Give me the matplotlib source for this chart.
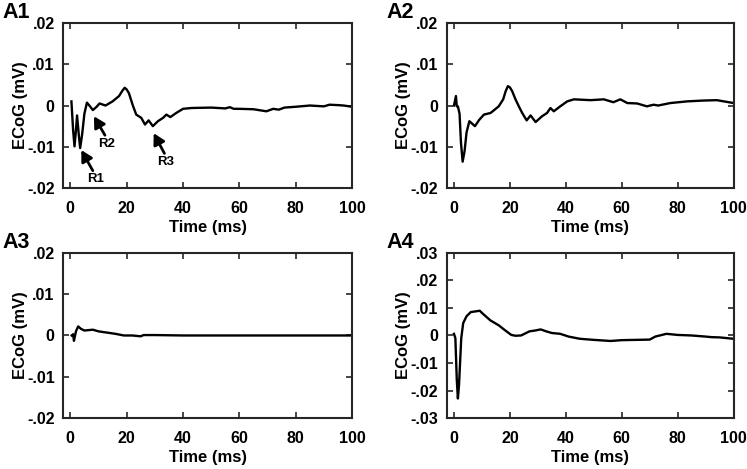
import matplotlib.pyplot as plt
from matplotlib.ticker import FuncFormatter

plt.rcParams['font.family'] = ['Liberation Sans', 'DejaVu Sans']
plt.rcParams['font.weight'] = 'bold'

# traces (time in ms, ECoG in mV)
t1 = [0.4, 1.0, 1.5, 2.0, 2.4, 3.0, 3.5, 4.2, 5.0, 5.9, 7.0, 8, 9.2, 10.4, 12.5, 15, 17.3,
      18.5, 19.3, 20.0, 20.8, 22.2, 23.4, 25.2, 26.5, 27.8, 29.3, 31.1, 32.9, 34.1, 35.5,
      37.6, 40, 43, 50, 55, 56.6, 58, 60, 65, 69.6, 72, 74, 76, 80, 85, 90, 92, 95, 97, 100]
v1 = [0.001, -0.006, -0.0099, -0.006, -0.0024, -0.007, -0.0103, -0.007, -0.002, 0.0007,
      -0.0002, -0.0011, -0.0004, 0.0005, 0.0, 0.001, 0.0023, 0.0036, 0.0043, 0.0039, 0.003,
      0.0, -0.0022, -0.003, -0.0046, -0.0036, -0.005, -0.0038, -0.003, -0.0022, -0.0028,
      -0.0018, -0.0008, -0.0006, -0.0005, -0.0007, -0.0004, -0.0008, -0.0008, -0.0009,
      -0.0014, -0.0008, -0.001, -0.0005, -0.0003, 0.0, -0.0002, 0.0002, 0.0001, 0.0, -0.0003]

t2 = [0, 0.7, 1.0, 1.4, 2.0, 2.5, 3.1, 3.8, 4.5, 5.5, 7.5, 9, 10.7, 13.1, 16, 17.6, 18.5,
      19.3, 20.0, 20.8, 22, 23.2, 24.4, 26, 27.4, 29.2, 31.5, 33.3, 34.5, 35.7, 38, 40.5,
      42.9, 48.8, 53.6, 57, 59.5, 62, 65.5, 69, 71.4, 73, 77.4, 83.3, 89, 94, 100]
v2 = [0.0, 0.0023, -0.0002, -0.0002, -0.002, -0.009, -0.0136, -0.011, -0.0065, -0.0038,
      -0.005, -0.0035, -0.0022, -0.0018, -0.0002, 0.0015, 0.0035, 0.0047, 0.0044, 0.0035,
      0.0015, -0.0002, -0.0018, -0.0036, -0.0024, -0.004, -0.0026, -0.0018, -0.0006,
      -0.0014, -0.0002, 0.001, 0.0015, 0.0013, 0.0015, 0.0008, 0.0015, 0.0006, 0.0005,
      -0.0002, 0.0002, 0.0, 0.0006, 0.001, 0.0012, 0.0013, 0.0006]

t3 = [0.5, 1.0, 1.3, 2.0, 2.8, 3.8, 5, 8, 10, 13, 16, 19, 22, 25, 26, 30, 40, 60, 80, 100]
v3 = [0.0, 0.0003, -0.0013, 0.001, 0.0022, 0.0016, 0.0012, 0.0014, 0.001, 0.0007, 0.0004,
      0.0, 0.0, -0.0002, 0.0001, 0.0001, 0.0, 0.0, 0.0, 0.0]

t4 = [0, 0.5, 1.0, 1.4, 1.8, 2.2, 2.6, 3.3, 4.5, 6, 8, 9.2, 10, 13, 16, 18, 20.5, 22, 24,
      25, 27, 29, 31, 33, 35, 38, 41, 45, 50, 56, 60, 65, 70, 72, 76, 80, 85, 90, 92, 95, 100]
v4 = [0.0006, -0.001, -0.016, -0.0229, -0.018, -0.0095, -0.001, 0.0045, 0.007, 0.0085,
      0.0088, 0.009, 0.0082, 0.0055, 0.0037, 0.0021, 0.0002, -0.0001, 0.0, 0.0005, 0.0015,
      0.0018, 0.0022, 0.0015, 0.0009, 0.0006, -0.0004, -0.0012, -0.0016, -0.002, -0.0017,
      -0.0016, -0.0015, -0.0004, 0.0006, 0.0002, 0.0, -0.0004, -0.0006, -0.0007, -0.0012]

traces = [(t1, v1, 'A1', 0.02), (t2, v2, 'A2', 0.02), (t3, v3, 'A3', 0.02), (t4, v4, 'A4', 0.03)]

# R1..R3 annotations on A1: (label, arrow tip, arrow tail, text position)
notes = [('R1', (3.9, -0.0108), (8.0, -0.0158), (8.9, -0.0178)),
         ('R2', (8.4, -0.0026), (12.3, -0.0072), (12.8, -0.0094)),
         ('R3', (29.6, -0.0067), (33.4, -0.0116), (34.0, -0.0138))]


def fmt(v, pos):
    if abs(v) < 1e-9:
        return '0'
    s = '%.2f' % v
    return s.replace('0.', '.')


fig = plt.figure(figsize=(7.47, 4.69), dpi=100)
pos = [(0.0843, 0.599), (0.598, 0.599), (0.0843, 0.1087), (0.598, 0.1087)]
w = [0.387, 0.384, 0.387, 0.384]

for i, (t, v, lab, lim) in enumerate(traces):
    ax = fig.add_axes([pos[i][0], pos[i][1], w[i], 0.352])
    ax.plot(t, v, color='black', lw=1.7, solid_joinstyle='round')
    ax.set_xlim(-2.6, 100)
    ax.set_ylim(-lim, lim)
    ax.set_xticks([0, 20, 40, 60, 80, 100])
    step = 0.01
    n = int(round(lim / step))
    ax.set_yticks([k * step for k in range(-n, n + 1)])
    ax.yaxis.set_major_formatter(FuncFormatter(fmt))
    ax.tick_params(direction='in', length=4, width=1.2, top=True, right=True,
                   labelsize=11.5, colors='#262626')
    ax.tick_params(axis='x', pad=9)
    ax.tick_params(axis='y', pad=6)
    for lbl in ax.get_xticklabels() + ax.get_yticklabels():
        lbl.set_fontweight('bold')
        lbl.set_color('black')
    for sp in ax.spines.values():
        sp.set_linewidth(1.5)
        sp.set_color('#262626')
    ax.set_xlabel('Time (ms)', fontsize=12, fontweight='bold', labelpad=3)
    ax.set_ylabel('ECoG (mV)', fontsize=12, fontweight='bold', labelpad=-0.5)
    ax.text(-0.21, 1.0, lab, transform=ax.transAxes, fontsize=15.5, fontweight='bold',
            ha='left', va='bottom')
    if lab == 'A1':
        for name, tip, tail, txt in notes:
            ax.annotate('', xy=tip, xytext=tail,
                        arrowprops=dict(arrowstyle='-|>,head_length=0.65,head_width=0.36',
                                        color='black', lw=2.0, shrinkA=0, shrinkB=0))
            ax.text(txt[0], txt[1], name, fontsize=9.5, fontweight='bold',
                    ha='center', va='center')

fig.savefig('out.png', dpi=100)
